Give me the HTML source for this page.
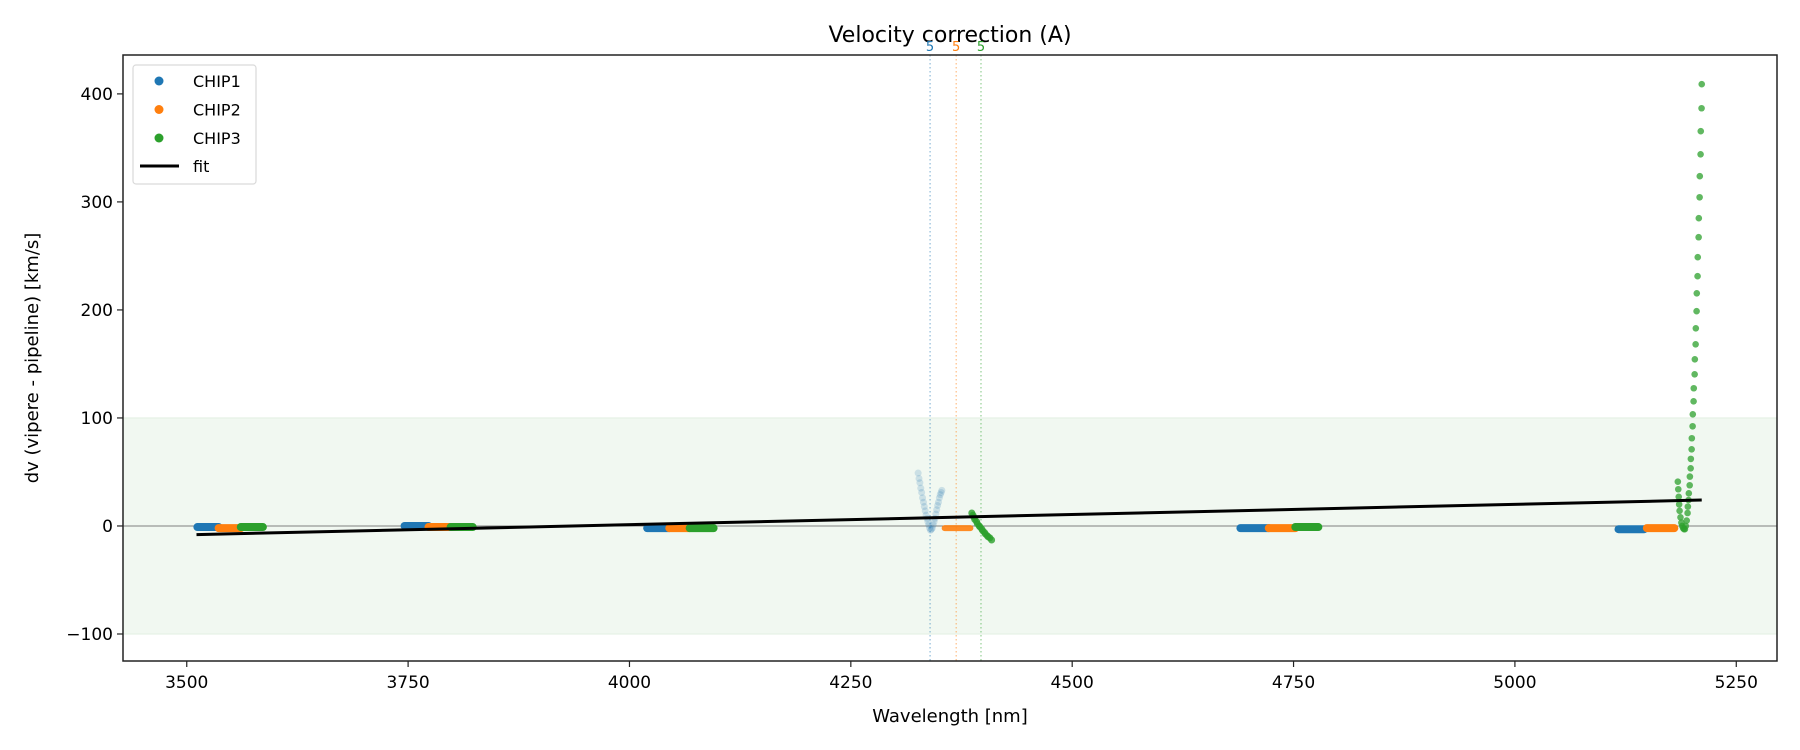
<!DOCTYPE html>
<html><head><meta charset="utf-8"><style>
html,body{margin:0;padding:0;background:#fff;}
svg{display:block;font-family:"DejaVu Sans","Liberation Sans",sans-serif;}
</style></head><body>
<svg id="chart" width="1800" height="750" xmlns="http://www.w3.org/2000/svg">
<text x="950" y="42" font-size="22" text-anchor="middle">Velocity correction (A)</text>
<text x="950" y="722" font-size="18" text-anchor="middle">Wavelength [nm]</text>
<text transform="translate(38,358) rotate(-90)" font-size="18" text-anchor="middle">dv (vipere - pipeline) [km/s]</text>
<g id="plot"></g>
</svg>
<script>
// ---- data ----
const xTicks = [3500, 3750, 4000, 4250, 4500, 4750, 5000, 5250];
const yTicks = [-100, 0, 100, 200, 300, 400];
// flat segments: [start nm, end nm, dv]
const chip1Segments = [[3512,3536,-1],[3746,3773,0],[4020,4045,-2],[4690,4722,-2],[5117,5146,-3]];
const chip2Segments = [[3536,3561,-2],[3773,3798,-1],[4045,4068,-2],[4722,4752,-2],[5149,5180,-2]];
const chip3Segments = [[3561,3586,-1],[3798,3823,-1],[4068,4095,-2],[4752,4778,-1]];
// order 5 (faint) curves
const chip1Order5W = [4326,4327,4328,4329,4330,4331,4332,4333,4334,4335,4336,4337,4338,4339,4340,4341,4342,4343,4344,4345,4346,4347,4348,4349,4350,4351,4352,4352.8];
const chip1Order5V = [49,44,40,35,31,26,22,18,14,10,7,4,1,-2,-4,-3,-2,1,4,7,11,15,19,22,26,29,31,33];
const chip2Order5W = [4356,4362,4368,4374,4380,4385];
const chip2Order5V = [-2,-2,-2,-2,-2,-2];
const chip3Order5W = [4386.6,4388,4389,4390,4392,4393,4395,4396,4398,4399,4401,4402,4404,4405,4407,4409];
const chip3Order5V = [12,10,8,6,4,2,0,-1,-3,-4.5,-6,-7.5,-9,-10,-11,-13];
// order 5 vertical markers
const orderLineW = [4339.5, 4369, 4397];
const orderLabels = ["5","5","5"];
// green spike near 5200
const spikeW = [5184,5184.5,5185,5185.5,5186,5187,5188,5189,5190,5191,5192,5193,5194,5195,5195.3,5196.1,5196.4,5197.4,5197.6,5198.5,5198.7,5199.6,5199.8,5200.7,5200.9,5201.8,5202.0,5203.0,5203.2,5204.1,5204.3,5205.2,5205.4,5206.3,5206.5,5207.5,5207.7,5208.6,5208.8,5209.7,5209.9,5210.8,5211.0];
const spikeV = [41,34,27,20,14,8,3,0,-2,-3,-3,0,5,12,17.9,24,30.2,37.7,45.7,53.4,62.1,71,81.2,92.3,103.4,115.4,127.5,140.4,154.3,168.2,183,198.8,215.4,231.2,248.8,267.3,284.9,304.3,323.8,344.1,365.5,386.7,409];
const fitW = [3511, 5211];
const fitV = [-8, 24];
const bandLimits = [-100, 100];

// ---- axes ----
const L=123,R=1777,T=55,B=661;
const xMin=3428,xMax=5296,yMin=-125,yMax=436;
const sx=w=>L+(w-xMin)/(xMax-xMin)*(R-L);
const sy=v=>B-(v-yMin)/(yMax-yMin)*(B-T);
const NS="http://www.w3.org/2000/svg";
const g=document.getElementById('plot');
function mk(tag,attrs,parent){const e=document.createElementNS(NS,tag);for(const k in attrs)e.setAttribute(k,attrs[k]);(parent||g).appendChild(e);return e;}
const C1="#1f77b4",C2="#ff7f0e",C3="#2ca02c";

let e=mk('rect',{x:L,y:sy(bandLimits[1]),width:R-L,height:sy(bandLimits[0])-sy(bandLimits[1]),fill:"#f1f8f1",stroke:"#e2efe2","stroke-width":1});


e=mk('line',{x1:L,x2:R,y1:sy(0),y2:sy(0),stroke:"#808080","stroke-width":1});



const oc=[C1,C2,C3];
orderLineW.forEach((w,i)=>{
  let l=mk('line',{x1:sx(w),x2:sx(w),y1:T,y2:B,stroke:oc[i],"stroke-width":1.2,"stroke-dasharray":"1.5 2.5",opacity:0.5});
  
  
  let t=mk('text',{x:sx(w),y:T-4,"font-size":13,"text-anchor":"middle",fill:oc[i]});
  t.textContent=orderLabels[i];
  
  
});

function segs(arr,col,name){arr.forEach(s=>{
  let l=mk('line',{x1:sx(s[0]),x2:sx(s[1]),y1:sy(s[2]),y2:sy(s[2]),stroke:col,"stroke-width":8,"stroke-linecap":"round"});
  
  
});}
segs(chip1Segments,C1,'chip1-points');
segs(chip2Segments,C2,'chip2-points');
segs(chip3Segments,C3,'chip3-points');

function dots(W,V,col,op,r,name){W.forEach((w,i)=>{
  let c=mk('circle',{cx:sx(w),cy:sy(V[i]),r:r,fill:col,opacity:op});
  
  
});}
dots(chip1Order5W,chip1Order5V,C1,0.18,3.5,'chip1-order5-point');
e=mk('polyline',{points:chip2Order5W.map((w,i)=>sx(w)+','+sy(chip2Order5V[i])).join(' '),fill:"none",stroke:C2,"stroke-width":6,"stroke-linecap":"round",opacity:0.9});


dots(chip3Order5W,chip3Order5V,C3,0.8,3.5,'chip3-order5-point');
dots(spikeW,spikeV,C3,0.75,3.3,'chip3-spike-point');

e=mk('line',{x1:sx(fitW[0]),y1:sy(fitV[0]),x2:sx(fitW[1]),y2:sy(fitV[1]),stroke:"#000","stroke-width":3});



e=mk('rect',{x:L,y:T,width:R-L,height:B-T,fill:"none",stroke:"#222","stroke-width":1.5});



xTicks.forEach(v=>{
  let l=mk('line',{x1:sx(v),x2:sx(v),y1:B,y2:B+6,stroke:"#222","stroke-width":1.2});
  
  
  let t=mk('text',{x:sx(v),y:B+27,"font-size":17,"text-anchor":"middle"});
  t.textContent=v;
  
  
});
yTicks.forEach(v=>{
  let l=mk('line',{x1:L-6,x2:L,y1:sy(v),y2:sy(v),stroke:"#222","stroke-width":1.2});
  
  
  let t=mk('text',{x:L-10,y:sy(v)+6,"font-size":17,"text-anchor":"end"});
  t.textContent=v<0?"\u2212"+(-v):v;
  
  
});

// legend
const lg=mk('g',{});


e=mk('rect',{x:133,y:65,width:123,height:119,rx:3,fill:"#fff",stroke:"#d6d6d6","stroke-width":1.2,opacity:0.9},lg);


const legNames=["CHIP1","CHIP2","CHIP3"];
[C1,C2,C3].forEach((c,i)=>{
  const y=81+i*28.5;
  let d=mk('circle',{cx:159,cy:y,r:4.5,fill:c},lg);
  
  
  let t=mk('text',{x:193,y:y+6,"font-size":16},lg);
  t.textContent=legNames[i];
  
  
});
e=mk('line',{x1:140,x2:179,y1:166,y2:166,stroke:"#000","stroke-width":3},lg);


e=mk('text',{x:193,y:172,"font-size":16},lg);
e.textContent="fit";


</script>
</body></html>
